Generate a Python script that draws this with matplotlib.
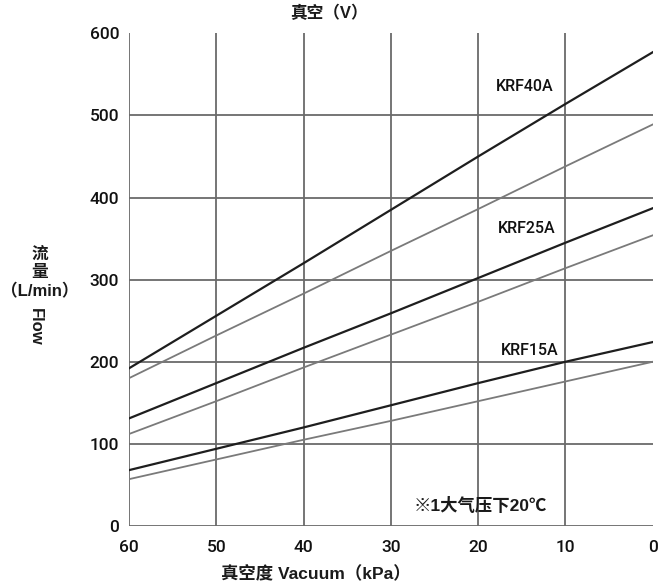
import matplotlib.pyplot as plt

plt.rcParams['font.family'] = ['Liberation Sans', 'Noto Sans CJK SC', 'DejaVu Sans']

vacuum = [60, 50, 40, 30, 20, 10, 0]
krf40a_dark = [192, 256, 320, 385, 450, 514, 577]
krf40a_light = [180, 232, 283, 335, 386, 438, 489]
krf25a_dark = [131, 174, 217, 259, 302, 345, 387]
krf25a_light = [112, 152, 193, 233, 273, 314, 354]
krf15a_dark = [68, 94, 120, 147, 174, 200, 224]
krf15a_light = [57, 81, 105, 128, 152, 176, 200]
labels = ['KRF40A', 'KRF25A', 'KRF15A']
label_pos = [(14.7, 535), (14.4, 362), (14.1, 214)]

fig = plt.figure(figsize=(6.58, 5.83), dpi=100)
ax = fig.add_axes([0.196, 0.0978, 0.796, 0.845])

grid_c = '#6a6a6a'
for v in [60, 50, 40, 30, 20, 10]:
    ax.axvline(v, color=grid_c, lw=1.3, zorder=1)
for v in [0, 100, 200, 300, 400, 500]:
    ax.axhline(v, color=grid_c, lw=1.3, zorder=1)

for y in [krf40a_light, krf25a_light, krf15a_light]:
    ax.plot(vacuum, y, color='#7a7a7a', lw=1.3, zorder=2)
for y in [krf40a_dark, krf25a_dark, krf15a_dark]:
    ax.plot(vacuum, y, color='#1e1e1e', lw=1.6, zorder=3)

for name, (x, y) in zip(labels, label_pos):
    ax.text(x, y, name, ha='center', va='center', fontsize=11.5, color='#111111',
            family=['Roboto', 'Liberation Sans'], fontweight='medium')
ax.text(19.8, 25, '※1大气压下20℃', ha='center', va='center', fontsize=12.5,
        fontweight='bold', color='#1a1a1a')

ax.set_xlim(60, 0)
ax.set_ylim(0, 600)
ax.set_xticks(vacuum)
ax.set_yticks([0, 100, 200, 300, 400, 500, 600])
ax.tick_params(length=0, labelsize=12.5, colors='#111111')
ax.tick_params(axis='y', pad=7)
ax.tick_params(axis='x', pad=10)
for lab in ax.get_xticklabels() + ax.get_yticklabels():
    lab.set_family(['Roboto', 'Liberation Sans'])
    lab.set_fontweight('medium')
for s in ax.spines.values():
    s.set_visible(False)

fig.text(0.5, 1 - 13 / 583, '真空（V）', ha='center', va='center', fontsize=12,
         fontweight='bold', color='#1a1a1a')
fig.text(316 / 658, 1 - 573 / 583, '真空度 Vacuum（kPa）', ha='center', va='center',
         fontsize=12.5, fontweight='bold', color='#1a1a1a')
fig.text(0.06, 0.532, '流\n量\n（L/min）', ha='center', va='center', fontsize=12,
         fontweight='bold', linespacing=1.25, color='#1a1a1a')
fig.text(0.054, 0.439, 'Flow', ha='center', va='center', rotation=270, fontsize=12,
         fontweight='bold', color='#1a1a1a')

fig.savefig('out.png', dpi=100)
